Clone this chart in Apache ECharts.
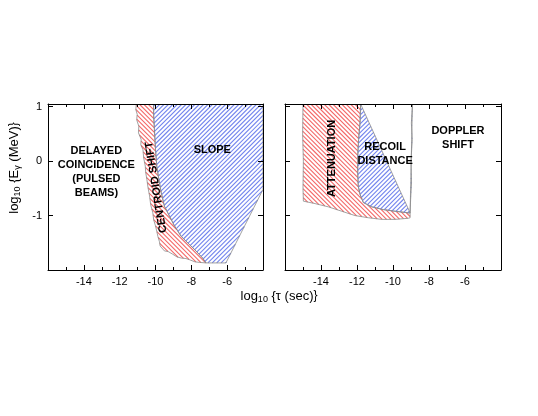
<!DOCTYPE html>
<html>
<head>
<meta charset="utf-8">
<script src="https://cdn.jsdelivr.net/npm/echarts@6/dist/echarts.min.js"></script>
<style>
html, body { margin: 0; padding: 0; background: #fff; }
#chart { width: 538px; height: 416px; }
</style>
</head>
<body>
<div id="chart"></div>
<script>
// axis ranges and tick labels (log10 tau in sec, log10 E_gamma in MeV)
var xRange = [-16, -4];
var yRange = [-2, 1.05];
var xTickLabels = [-14, -12, -10, -8, -6];
var yTickLabels = [1, 0, -1];

// left panel: outer edge of the centroid-shift band (top -> bottom)
var centroidOuter = [[-11.07, 1.05], [-11.1, 0.95], [-11.02, 0.86], [-11.05, 0.76], [-10.93, 0.64], [-10.95, 0.52],
  [-10.8, 0.4], [-10.82, 0.3], [-10.7, 0.21], [-10.66, 0.06], [-10.57, -0.09], [-10.55, -0.2], [-10.48, -0.34],
  [-10.42, -0.48], [-10.33, -0.64], [-10.27, -0.8], [-10.15, -0.95], [-10.1, -1.08], [-10.0, -1.19], [-9.92, -1.3],
  [-9.87, -1.38], [-9.78, -1.48], [-9.74, -1.56], [-9.5, -1.65], [-9.3, -1.66], [-9.04, -1.71], [-8.8, -1.76],
  [-8.57, -1.78], [-8.3, -1.79], [-8.11, -1.81], [-7.8, -1.85], [-7.56, -1.86], [-7.18, -1.87]];
// left panel: border between centroid shift and slope (top -> bottom)
var centroidSlopeEdge = [[-10.11, 1.05], [-10.1, 0.83], [-10.06, 0.58], [-10.0, 0.21], [-9.93, -0.09], [-9.81, -0.34],
  [-9.68, -0.58], [-9.5, -0.83], [-9.22, -1.01], [-8.94, -1.19], [-8.57, -1.38], [-8.11, -1.53], [-7.74, -1.65],
  [-7.37, -1.78], [-7.18, -1.87]];
// left panel: outer edge of slope region (bottom -> top right)
var slopeOuter = [[-6.07, -1.87], [-4, -0.52], [-4, 1.05]];

// right panel: attenuation outer edge (top left -> bottom right)
var attenOuter = [[-15, 1.05], [-15.02, 0.5], [-14.98, 0.0], [-15.0, -0.5], [-14.98, -0.735], [-14.33, -0.78],
  [-13.59, -0.84], [-12.85, -0.92], [-12.11, -1.0], [-11.37, -1.04], [-10.63, -1.07], [-9.89, -1.07],
  [-9.15, -1.05], [-9.05, -1.04]];
// right panel: border between attenuation and recoil distance (bottom right -> top)
var attenRecoilEdge = [[-9.05, -0.95], [-9.15, -0.95], [-9.89, -0.92], [-10.54, -0.89], [-11.18, -0.84],
  [-11.65, -0.76], [-11.83, -0.61], [-11.93, -0.46], [-11.96, -0.21], [-11.96, 0.09], [-11.91, 0.4],
  [-11.83, 0.71], [-11.8, 1.05]];
// right panel: recoil distance right edge (top -> bottom)
var recoilOuter = [[-8.92, 1.05], [-8.98, 0.7], [-8.93, 0.4], [-9.0, 0.0], [-8.97, -0.4], [-9.02, -0.7], [-9.05, -0.95]];

// region labels [x, y, text, rotation in degrees]
var leftLabels = [
  [-13.3, -0.19, 'DELAYED\nCOINCIDENCE\n(PULSED\nBEAMS)', 0],
  [-6.83, 0.2, 'SLOPE', 0],
  [-9.96, -0.48, 'CENTROID SHIFT', 99]
];
var rightLabels = [
  [-13.41, 0.05, 'ATTENUATION', 90],
  [-10.44, 0.14, 'RECOIL\nDISTANCE', 0],
  [-6.39, 0.42, 'DOPPLER\nSHIFT', 0]
];

var centroidPoly = centroidOuter.concat(centroidSlopeEdge.slice(0, -1).reverse());
var slopePoly = centroidSlopeEdge.concat(slopeOuter);
var attenPoly = attenOuter.concat(attenRecoilEdge);
var recoilPoly = attenRecoilEdge.slice().reverse().concat(recoilOuter);

var font = 'Liberation Sans, Arial, sans-serif';
var gap = 4.4; // hatch spacing in px

// 45deg hatch lines clipped to a pixel polygon. rising: "/" , else "\"
function hatchLines(pts, rising, color) {
  var u = function(p) { return rising ? p[0] + p[1] : p[1] - p[0]; };
  var lo = Infinity, hi = -Infinity;
  pts.forEach(function(p) { var v = u(p); lo = Math.min(lo, v); hi = Math.max(hi, v); });
  var out = [];
  for (var c = Math.ceil(lo / gap) * gap; c <= hi; c += gap) {
    var xs = [];
    for (var i = 0; i < pts.length; i++) {
      var a = pts[i], b = pts[(i + 1) % pts.length];
      var ua = u(a), ub = u(b);
      if ((ua <= c && ub > c) || (ub <= c && ua > c)) {
        var t = (c - ua) / (ub - ua);
        xs.push(a[0] + t * (b[0] - a[0]));
      }
    }
    xs.sort(function(m, n) { return m - n; });
    for (var k = 0; k + 1 < xs.length; k += 2) {
      var x1 = xs[k], x2 = xs[k + 1];
      var y1 = rising ? c - x1 : c + x1;
      var y2 = rising ? c - x2 : c + x2;
      out.push({
        type: 'line', silent: true,
        shape: { x1: x1, y1: y1, x2: x2, y2: y2 },
        style: { stroke: color, lineWidth: 1.1 }
      });
    }
  }
  return out;
}

function regionSeries(grid, poly, rising, color) {
  return {
    type: 'custom',
    xAxisIndex: grid * 2,
    yAxisIndex: grid * 2,
    data: [0],
    clip: true,
    z: 2,
    renderItem: function(params, api) {
      var pts = poly.map(function(p) { return api.coord(p); });
      var kids = hatchLines(pts, rising, color);
      kids.push({
        type: 'polygon', silent: true,
        shape: { points: pts },
        style: { fill: null, stroke: '#8a8a8a', lineWidth: 0.8 }
      });
      return { type: 'group', children: kids };
    }
  };
}

function labelSeries(grid, labels) {
  return {
    type: 'custom',
    xAxisIndex: grid * 2,
    yAxisIndex: grid * 2,
    data: labels,
    clip: false,
    z: 4,
    renderItem: function(params, api) {
      var l = labels[params.dataIndex];
      var p = api.coord([l[0], l[1]]);
      return {
        type: 'text',
        x: p[0], y: p[1],
        rotation: l[3] * Math.PI / 180,
        style: {
          text: l[2],
          font: 'bold 11px ' + font,
          fill: '#000',
          align: 'center',
          verticalAlign: 'middle',
          lineHeight: 14
        }
      };
    }
  };
}

function xAxisOf(grid, pos) {
  var bottom = pos === 'bottom';
  return {
    type: 'value', gridIndex: grid, position: pos,
    min: xRange[0], max: xRange[1], interval: 2, z: 5,
    axisLine: { show: true, onZero: false, lineStyle: { color: '#000', width: 1 } },
    axisTick: { show: true, inside: true, length: 5, lineStyle: { color: '#000' } },
    minorTick: { show: true, splitNumber: 2, length: 3, lineStyle: { color: '#000' } },
    splitLine: { show: false },
    minorSplitLine: { show: false },
    axisLabel: {
      show: bottom, margin: 6, fontSize: 11, color: '#000', fontFamily: font,
      formatter: function(v) { return xTickLabels.indexOf(v) >= 0 ? String(v) : ''; }
    }
  };
}

function yAxisOf(grid, pos, labels) {
  return {
    type: 'value', gridIndex: grid, position: pos,
    min: yRange[0], max: yRange[1], interval: 1, z: 5,
    axisLine: { show: true, onZero: false, lineStyle: { color: '#000', width: 1 } },
    axisTick: { show: true, inside: true, length: 5, lineStyle: { color: '#000' } },
    splitLine: { show: false },
    axisLabel: {
      show: labels, margin: 6, fontSize: 11, color: '#000', fontFamily: font,
      formatter: function(v) { return yTickLabels.indexOf(v) >= 0 ? String(v) : ''; }
    }
  };
}

var chart = echarts.init(document.getElementById('chart'), null, { renderer: 'canvas' });

var option = {
  backgroundColor: '#fff',
  animation: false,
  grid: [
    { left: 48, top: 104, width: 215, height: 166 },
    { left: 285, top: 104, width: 216, height: 166 }
  ],
  xAxis: [xAxisOf(0, 'bottom'), xAxisOf(0, 'top'), xAxisOf(1, 'bottom'), xAxisOf(1, 'top')],
  yAxis: [yAxisOf(0, 'left', true), yAxisOf(0, 'right', false), yAxisOf(1, 'left', false), yAxisOf(1, 'right', false)],
  series: [
    regionSeries(0, centroidPoly, false, '#f46868'),
    regionSeries(0, slopePoly, true, '#7284ee'),
    regionSeries(1, attenPoly, false, '#f46868'),
    regionSeries(1, recoilPoly, true, '#7284ee'),
    labelSeries(0, leftLabels),
    labelSeries(1, rightLabels)
  ],
  graphic: [
    {
      type: 'text', x: 279, y: 296,
      style: {
        text: '{n|log}{s|10}{n| {τ (sec)}}',
        align: 'center', verticalAlign: 'middle', fill: '#000',
        rich: {
          n: { fontSize: 13, fontFamily: font, lineHeight: 16 },
          s: { fontSize: 9, fontFamily: font, lineHeight: 9, padding: [7, 0, 0, 0] }
        }
      }
    },
    {
      type: 'text', x: 14, y: 168, rotation: Math.PI / 2,
      style: {
        text: '{n|log}{s|10}{n| {E}{s|γ}{n| (MeV)}}',
        align: 'center', verticalAlign: 'middle', fill: '#000',
        rich: {
          n: { fontSize: 13, fontFamily: font, lineHeight: 16 },
          s: { fontSize: 9, fontFamily: font, lineHeight: 9, padding: [7, 0, 0, 0] }
        }
      }
    }
  ]
};
chart.setOption(option);
</script>
</body>
</html>
